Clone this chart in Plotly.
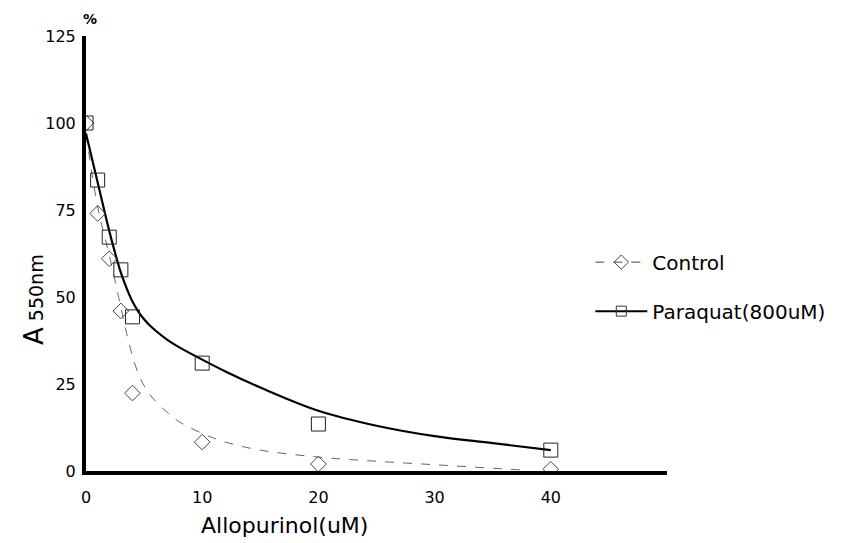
import plotly.graph_objects as go

# Measured data points
x_pts = [0, 1, 2, 3, 4, 10, 20, 40]
control_pts = [100, 74, 61, 46, 22.4, 8.3, 2, 0.5]
paraquat_pts = [100, 83.6, 67.2, 57.8, 44.3, 31, 13.5, 6]

# Fitted curves
paraquat_curve_x = [0, 1, 2, 3, 3.5, 4, 4.5, 5, 5.5, 6, 7, 8, 10, 12, 15, 20, 25, 30, 35, 40]
paraquat_curve_y = [97, 83, 69, 57, 52.5, 48.7, 45.8, 43.6, 41.8, 40.3, 37.7, 35.6, 32, 28.6, 24, 17.3, 13, 10, 8, 6]
control_curve_x = [0, 1, 2, 3, 3.5, 4, 4.5, 5, 5.5, 6, 7, 8, 10, 12, 15, 20, 25, 30, 35, 38]
control_curve_y = [97, 76, 62, 47, 39.5, 33, 28, 24.5, 22, 20, 16.8, 14.2, 10.8, 8.3, 6, 4, 2.8, 1.8, 0.8, 0.2]

x_ticks = [0, 10, 20, 30, 40]
y_ticks = [0, 25, 50, 75, 100, 125]

FONT = "DejaVu Sans, Arial, sans-serif"

fig = go.Figure()

# curves
fig.add_trace(go.Scatter(x=control_curve_x, y=control_curve_y, mode="lines",
                         line=dict(color="#666666", width=1, shape="spline", dash="dash"),
                         showlegend=False, hoverinfo="skip"))
fig.add_trace(go.Scatter(x=paraquat_curve_x, y=paraquat_curve_y, mode="lines",
                         line=dict(color="black", width=2.2, shape="spline"),
                         showlegend=False, hoverinfo="skip"))
# markers
fig.add_trace(go.Scatter(x=x_pts, y=control_pts, mode="markers",
                         marker=dict(symbol="diamond-open", size=12, color="#444444",
                                     line=dict(width=1)),
                         showlegend=False))
fig.add_trace(go.Scatter(x=x_pts, y=paraquat_pts, mode="markers",
                         marker=dict(symbol="square-open", size=14, color="#222222",
                                     line=dict(width=1)),
                         showlegend=False))
# legend entries
fig.add_trace(go.Scatter(x=[None], y=[None], mode="lines+markers", name="Control",
                         legendgroup="c",
                         line=dict(color="#444444", width=1, dash="dash"),
                         marker=dict(symbol="diamond-open", size=11, color="#444444")))
fig.add_trace(go.Scatter(x=[None], y=[None], mode="lines+markers", name="Paraquat(800uM)",
                         legendgroup="p",
                         line=dict(color="black", width=2),
                         marker=dict(symbol="square-open", size=10, color="#333333")))

L, T, PW, PH = 78, 28, 581, 435

fig.update_layout(
    width=847, height=543,
    margin=dict(l=L, r=847 - L - PW, t=T, b=543 - T - PH),
    plot_bgcolor="white", paper_bgcolor="white",
    font=dict(family=FONT, size=16, color="black"),
    showlegend=True,
    legend=dict(x=0.868, y=0.525, xanchor="left", yanchor="top",
                font=dict(family=FONT, size=20, color="black"),
                itemwidth=52,
                tracegroupgap=20, traceorder="grouped",
                bgcolor="rgba(0,0,0,0)"),
    xaxis=dict(range=[0, 50], tickvals=x_ticks, showgrid=False, zeroline=False,
               showline=True, linecolor="black", linewidth=4,
               ticks="", ticklabelstandoff=9,
               tickfont=dict(family=FONT, size=16)),
    yaxis=dict(range=[0, 125], tickvals=y_ticks, showgrid=False, zeroline=False,
               showline=True, linecolor="black", linewidth=4,
               ticks="", ticklabelstandoff=3,
               tickfont=dict(family=FONT, size=16)),
    annotations=[
        dict(text="<b>%</b>", x=4 / PW, y=(PH + 17) / PH, xref="paper", yref="paper",
             showarrow=False, xanchor="center", yanchor="middle",
             font=dict(size=14, family=FONT)),
        dict(text="Allopurinol(uM)", xref="paper", yref="paper", x=(283 - 85) / PW,
             y=-54 / PH, xanchor="center", yanchor="middle", showarrow=False,
             font=dict(size=22, family=FONT)),
        dict(text="A<span style='font-size:19px'> 550nm</span>", xref="paper", yref="paper",
             x=-52 / PW, y=(471 - 300) / PH, textangle=-90, xanchor="center",
             yanchor="middle", showarrow=False, font=dict(size=26, family=FONT)),
    ],
)

fig.write_html("out.html")
